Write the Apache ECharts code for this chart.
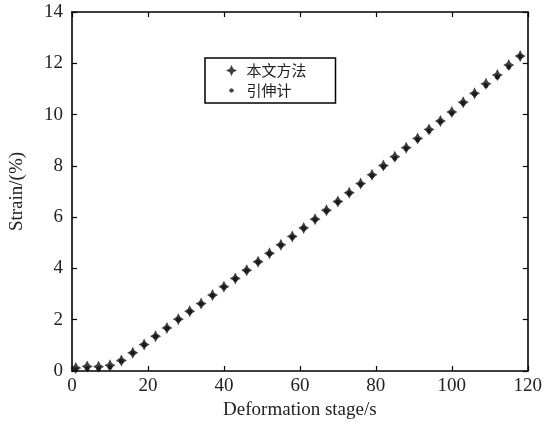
<!DOCTYPE html>
<html>
<head>
<meta charset="utf-8">
<script src="https://cdn.jsdelivr.net/npm/echarts@6/dist/echarts.min.js"></script>
<style>html,body{margin:0;padding:0;background:#fff}#c{width:545px;height:425px}</style>
</head>
<body>
<div id="c"></div>
<script>
var xStages = [1,4,7,10,13,16,19,22,25,28,31,34,37,40,43,46,49,52,55,58,61,64,67,70,73,76,79,82,85,88,91,94,97,100,103,106,109,112,115,118];
var methodStrain = [0.12,0.18,0.17,0.22,0.41,0.71,1.03,1.36,1.68,2.02,2.33,2.63,2.96,3.29,3.61,3.93,4.26,4.59,4.92,5.25,5.58,5.92,6.27,6.61,6.95,7.31,7.65,8.01,8.36,8.71,9.07,9.42,9.75,10.10,10.48,10.83,11.20,11.54,11.93,12.28];
var extensometerStrain = [0.05,0.10,0.10,0.15,0.38,0.70,1.02,1.34,1.66,2.00,2.31,2.61,2.94,3.27,3.59,3.91,4.24,4.57,4.90,5.22,5.56,5.90,6.24,6.58,6.92,7.27,7.61,7.97,8.30,8.68,9.02,9.36,9.72,10.05,10.44,10.80,11.13,11.47,11.86,12.26];
var seriesNames = ['本文方法','引伸计'];
var xTicks = {min:0, max:120, interval:20};
var yTicks = {min:0, max:14, interval:2};

function pairs(xs, ys){ return xs.map(function(x,i){ return [x, ys[i]]; }); }

var starPath = 'path://M0,-10 L3.6,-3.6 L10,0 L3.6,3.6 L0,10 L-3.6,3.6 L-10,0 L-3.6,-3.6 Z';
var legendStar = 'path://M0,-10 L3.4,-3.4 L10,0 L3.4,3.4 L0,10 L-3.4,3.4 L-10,0 L-3.4,-3.4 Z';
var legendDot = 'path://M0,0 M20,20 M14.2,10 L12.9,12.9 L10,14.2 L7.1,12.9 L5.8,10 L7.1,7.1 L10,5.8 L12.9,7.1 Z';
var serif = 'Liberation Serif';
var axisLineStyle = {color:'#000', width:1.6};
var tickStyle = {show:true, inside:true, length:5, lineStyle:{color:'#000', width:1.2}};

var chart = echarts.init(document.getElementById('c'), null, {renderer:'canvas'});
chart.setOption({
  animation:false,
  backgroundColor:'#fff',
  grid:{left:71, right:14, top:12, bottom:53},
  legend:{
    orient:'vertical', left:205, top:58,
    data:[{name:seriesNames[0], icon:legendStar},{name:seriesNames[1], icon:legendDot}],
    borderColor:'#000', borderWidth:1.5, borderRadius:0,
    padding:[5,29,5,21], itemGap:5,
    itemWidth:20, itemHeight:11,
    textStyle:{fontFamily:'Noto Sans CJK SC', fontSize:15, color:'#222'}
  },
  xAxis:[{
    type:'value', min:xTicks.min, max:xTicks.max, interval:xTicks.interval,
    name:'Deformation stage/s', nameLocation:'middle', nameGap:30,
    nameTextStyle:{fontFamily:serif, fontSize:19, color:'#222'},
    axisLine:{show:true, onZero:false, lineStyle:axisLineStyle},
    axisTick:tickStyle,
    axisLabel:{fontFamily:serif, fontSize:19, color:'#222', margin:6},
    splitLine:{show:false}
  },{
    type:'value', position:'top', min:xTicks.min, max:xTicks.max, interval:xTicks.interval,
    axisLine:{show:true, onZero:false, lineStyle:axisLineStyle},
    axisTick:tickStyle,
    axisLabel:{show:false}, splitLine:{show:false}
  }],
  yAxis:[{
    type:'value', min:yTicks.min, max:yTicks.max, interval:yTicks.interval,
    name:'Strain/(%)', nameLocation:'middle', nameGap:45, nameRotate:90,
    nameTextStyle:{fontFamily:serif, fontSize:19, color:'#222'},
    axisLine:{show:true, onZero:false, lineStyle:axisLineStyle},
    axisTick:tickStyle,
    axisLabel:{fontFamily:serif, fontSize:19, color:'#222', margin:9},
    splitLine:{show:false}
  },{
    type:'value', position:'right', min:yTicks.min, max:yTicks.max, interval:yTicks.interval,
    axisLine:{show:true, onZero:false, lineStyle:axisLineStyle},
    axisTick:tickStyle,
    axisLabel:{show:false}, splitLine:{show:false}
  }],
  series:[{
    name:seriesNames[0], type:'scatter', symbol:starPath, symbolSize:[11,12],
    itemStyle:{color:'#111'},
    data:pairs(xStages, methodStrain)
  },{
    name:seriesNames[1], type:'scatter', symbol:'circle', symbolSize:5,
    itemStyle:{color:'#111'},
    data:pairs(xStages, extensometerStrain)
  }]
});
</script>
</body>
</html>
